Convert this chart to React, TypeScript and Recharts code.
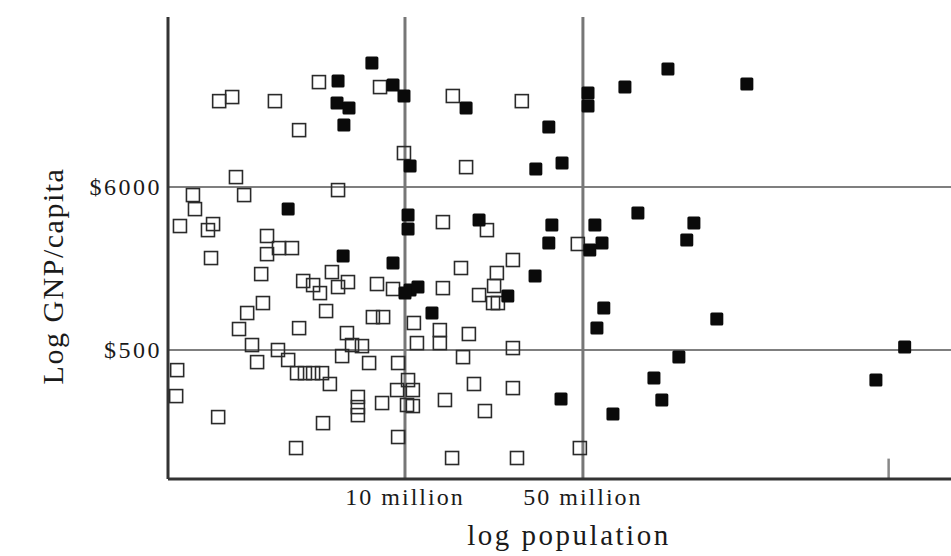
import { ScatterChart, Scatter, XAxis, YAxis, ReferenceLine, Label } from 'recharts';

// log10(population) tick positions and their labels
const popTicks = [7, 7.699];
const popTickLabels = ['10 million', '50 million'];
// unlabelled inner tick near the right end (~800 million)
const popMinorTick = 8.9;

// log10(GNP per capita) tick positions and their labels
const gnpTicks = [2.699, 3.778];
const gnpTickLabels = ['$500', '$6000'];

// [log population, log GNP/capita] for countries drawn as open squares
const openCountries: [number, number][] = [
  [6.27, 4.347], [6.321, 4.374], [6.489, 4.347], [6.662, 4.473], [6.902, 4.44],
  [6.584, 4.155], [6.996, 4.003], [6.336, 3.844], [6.737, 3.758], [6.167, 3.725],
  [6.175, 3.632], [6.368, 3.725], [6.116, 3.52], [6.226, 3.493], [6.246, 3.533],
  [6.458, 3.454], [6.556, 3.374], [6.505, 3.374], [6.458, 3.334], [6.238, 3.308],
  [6.435, 3.202], [6.713, 3.215], [6.776, 3.149], [6.6, 3.156], [6.639, 3.129],
  [6.666, 3.076], [6.737, 3.116], [6.69, 2.957], [6.89, 3.136], [6.953, 3.103],
  [6.442, 3.01], [6.38, 2.944], [6.348, 2.838], [6.584, 2.844], [6.874, 2.917],
  [6.914, 2.917], [6.772, 2.811], [6.792, 2.732], [6.831, 2.725], [6.399, 2.732],
  [6.501, 2.699], [6.419, 2.619], [6.541, 2.633], [6.576, 2.546], [6.607, 2.546],
  [6.639, 2.546], [6.674, 2.546], [6.705, 2.474], [6.753, 2.659], [6.859, 2.613],
  [6.973, 2.613], [6.105, 2.566], [6.101, 2.394], [6.266, 2.255], [6.678, 2.215],
  [6.572, 2.05], [6.815, 2.388], [6.815, 2.321], [6.815, 2.268], [6.91, 2.348],
  [6.969, 2.434], [7.008, 2.335], [6.973, 2.123], [7.188, 4.381], [7.459, 4.347],
  [7.24, 3.91], [7.149, 3.546], [7.322, 3.493], [7.679, 3.401], [7.424, 3.295],
  [7.22, 3.242], [7.361, 3.209], [7.35, 3.123], [7.149, 3.109], [7.291, 3.063],
  [7.346, 3.01], [7.365, 3.01], [7.035, 2.878], [7.137, 2.831], [7.251, 2.805],
  [7.047, 2.745], [7.137, 2.745], [7.424, 2.712], [7.228, 2.652], [7.012, 2.5],
  [7.031, 2.434], [7.031, 2.328], [7.271, 2.474], [7.424, 2.447], [7.157, 2.368],
  [7.314, 2.295], [7.687, 2.05], [7.185, 1.984], [7.44, 1.984],
];

// [log population, log GNP/capita] for countries drawn as filled squares
const filledCountries: [number, number][] = [
  [6.737, 4.48], [6.87, 4.599], [6.953, 4.453], [6.996, 4.381], [6.733, 4.334],
  [6.78, 4.301], [6.76, 4.189], [7.02, 3.917], [7.24, 4.301], [7.565, 4.175],
  [7.514, 3.897], [7.617, 3.937], [7.719, 4.4], [7.719, 4.314], [7.864, 4.44],
  [8.033, 4.559], [8.343, 4.46], [6.541, 3.632], [6.757, 3.321], [6.953, 3.275],
  [7.012, 3.593], [7.012, 3.5], [7.291, 3.56], [7.577, 3.526], [7.565, 3.407],
  [7.746, 3.526], [7.774, 3.407], [7.726, 3.361], [7.915, 3.606], [8.135, 3.54],
  [8.107, 3.427], [7.511, 3.189], [7.02, 3.096], [7.051, 3.116], [7.0, 3.076],
  [7.404, 3.056], [7.106, 2.944], [7.781, 2.977], [7.754, 2.844], [8.225, 2.904],
  [8.076, 2.652], [7.613, 2.374], [7.978, 2.513], [8.009, 2.368], [7.817, 2.275],
  [8.963, 2.719], [8.85, 2.5],
];

const toPoints = (rows: [number, number][]) => rows.map(([pop, gnp]) => ({ pop, gnp }));
const openData = toPoints(openCountries);
const filledData = toPoints(filledCountries);

const FONT = '"Liberation Serif", "Times New Roman", serif';
const MARK = 13;

const OpenSquare = (props: any) => (
  <rect
    x={props.cx - MARK / 2}
    y={props.cy - MARK / 2}
    width={MARK}
    height={MARK}
    fill="none"
    stroke="#2a2a2a"
    strokeWidth={1.6}
  />
);

const FilledSquare = (props: any) => (
  <rect
    x={props.cx - MARK / 2}
    y={props.cy - MARK / 2}
    width={MARK}
    height={MARK}
    rx={1.5}
    fill="#0a0a0a"
  />
);

const PopTick = (props: any) => {
  const i = popTicks.indexOf(props.payload.value);
  return (
    <text x={props.x} y={505} textAnchor="middle" fontFamily={FONT} fontSize={24} letterSpacing={2} fill="#1a1a1a">
      {popTickLabels[i]}
    </text>
  );
};

const GnpTick = (props: any) => {
  const i = gnpTicks.indexOf(props.payload.value);
  return (
    <text x={162} y={props.y + 8} textAnchor="end" fontFamily={FONT} fontSize={24} letterSpacing={2.5} fill="#1a1a1a">
      {gnpTickLabels[i]}
    </text>
  );
};

export default function App() {
  return (
    <div style={{ position: 'absolute', left: 0, top: 0, width: 951, height: 556, background: '#fff' }}>
      <ScatterChart width={951} height={556} margin={{ top: 17, right: 0, bottom: 0, left: 0 }}>
        <XAxis
          type="number"
          dataKey="pop"
          domain={[6.069, 9.145]}
          allowDataOverflow
          ticks={popTicks}
          tick={<PopTick />}
          tickLine={false}
          height={77}
          axisLine={{ stroke: '#333', strokeWidth: 3 }}
        >
          <Label
            content={() => (
              <text x={569} y={545} textAnchor="middle" fontFamily={FONT} fontSize={29} letterSpacing={2.5} fill="#1a1a1a">
                log population
              </text>
            )}
          />
        </XAxis>
        <YAxis
          type="number"
          dataKey="gnp"
          domain={[1.845, 4.904]}
          allowDataOverflow
          ticks={gnpTicks}
          tick={<GnpTick />}
          tickLine={false}
          width={168}
          axisLine={{ stroke: '#333', strokeWidth: 3 }}
        >
          <Label
            content={() => (
              <text
                x={63}
                y={276}
                transform="rotate(-90 63 276)"
                textAnchor="middle"
                fontFamily={FONT}
                fontSize={30}
                letterSpacing={1.5}
                fill="#1a1a1a"
              >
                Log GNP/capita
              </text>
            )}
          />
        </YAxis>

        {gnpTicks.map((v) => (
          <ReferenceLine key={`h${v}`} y={v} stroke="#555" strokeWidth={1.5} />
        ))}
        {popTicks.map((v) => (
          <ReferenceLine key={`v${v}`} x={v} stroke="#777" strokeWidth={3} />
        ))}
        <ReferenceLine
          segment={[{ x: popMinorTick, y: 1.845 }, { x: popMinorTick, y: 1.98 }]}
          stroke="#888"
          strokeWidth={2.5}
        />

        <Scatter data={openData} shape={<OpenSquare />} isAnimationActive={false} />
        <Scatter data={filledData} shape={<FilledSquare />} isAnimationActive={false} />
      </ScatterChart>
    </div>
  );
}
